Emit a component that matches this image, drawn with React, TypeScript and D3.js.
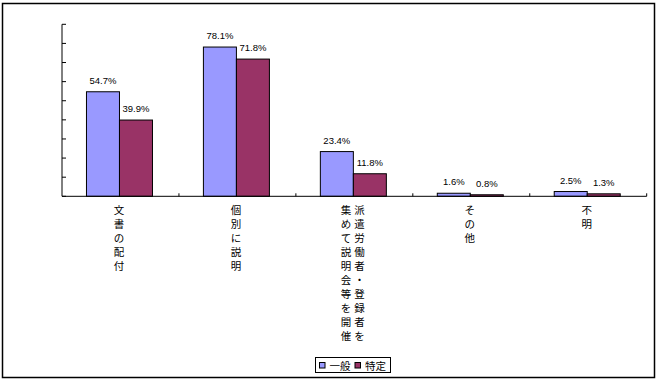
import React from "react";
import * as d3 from "d3";

const categories = ["文書の配付", "個別に説明", "派遣労働者・登録者を集めて説明会等を開催", "その他", "不明"];
// vertical label columns, read right-to-left
const labelColumns = [["文書の配付"], ["個別に説明"], ["派遣労働者・登録者を", "集めて説明会等を開催"], ["その他"], ["不明"]];
const seriesNames = ["一般", "特定"];
const ippan = [54.7, 78.1, 23.4, 1.6, 2.5];
const tokutei = [39.9, 71.8, 11.8, 0.8, 1.3];
const yTicks = [0, 10, 20, 30, 40, 50, 60, 70, 80, 90];
const colors = ["#9999FF", "#993366"];

const W = 658;
const H = 381;

export default function App() {
  const x = d3.scaleBand<string>().domain(categories).range([62, 646.7]).padding(0);
  const y = d3.scaleLinear().domain([0, 90]).range([196.3, 24.3]);
  const barW = 33;
  const series = [ippan, tokutei];
  const numFont = "'Liberation Sans', Arial, sans-serif";
  const cjkFont = "'Noto Sans CJK JP', sans-serif";
  const base = y(0);

  return (
    <svg width={W} height={H} style={{ position: "absolute", left: 0, top: 0, background: "#fff" }}>
      <rect x={2.5} y={3.5} width={652} height={374} fill="#fff" stroke="#000" strokeWidth={1.5} />
      {/* bars */}
      {categories.map((c, i) => {
        const cx = (x(c) as number) + x.bandwidth() / 2 - 1;
        return (
          <g key={c}>
            {series.map((s, j) => {
              const bx = cx - barW + j * barW;
              const top = y(s[i]);
              return (
                <g key={j}>
                  <rect x={bx} y={top} width={barW} height={base - top} fill={colors[j]} stroke="#000" strokeWidth={1} />
                  <text x={bx + barW / 2} y={top - 8} textAnchor="middle" fontFamily={numFont} fontSize={9.5} fill="#000">
                    {s[i].toFixed(1)}%
                  </text>
                </g>
              );
            })}
          </g>
        );
      })}
      {/* y axis */}
      <line x1={62} x2={62} y1={y(90)} y2={base} stroke="#000" strokeWidth={1} />
      {yTicks.map((t) => (
        <line key={t} x1={62} x2={66} y1={y(t)} y2={y(t)} stroke="#000" strokeWidth={1} />
      ))}
      {/* x axis */}
      <line x1={62} x2={646.7} y1={base} y2={base} stroke="#000" strokeWidth={1} />
      {categories.map((c, i) => {
        const bx = (x(c) as number) + x.bandwidth();
        return <line key={"t" + i} x1={bx} x2={bx} y1={base} y2={base - 3} stroke="#000" strokeWidth={1} />;
      })}
      {/* category labels, vertical */}
      {categories.map((c, i) => {
        const cx = (x(c) as number) + x.bandwidth() / 2 - 1.5;
        const cols = labelColumns[i];
        const n = cols.length;
        const colGap = 13.5;
        return (
          <g key={"l" + i}>
            {cols.map((col, k) => {
              const colX = cx + ((n - 1) / 2 - k) * colGap;
              return Array.from(col).map((ch, m) => (
                <text
                  key={k + "-" + m}
                  x={colX}
                  y={209 + m * 14}
                  textAnchor="middle"
                  dominantBaseline="central"
                  fontFamily={cjkFont}
                  fontSize={10.5}
                  fill="#000"
                >
                  {ch}
                </text>
              ));
            })}
          </g>
        );
      })}
      {/* legend */}
      <rect x={315.5} y={357.5} width={75} height={15} fill="#fff" stroke="#000" strokeWidth={1} />
      {seriesNames.map((s, j) => {
        const lx = 319.5 + j * 35.5;
        return (
          <g key={s}>
            <rect x={lx} y={362.5} width={5.5} height={5.5} fill={colors[j]} stroke="#000" strokeWidth={1} />
            <text x={lx + 10} y={365.3} dominantBaseline="central" fontFamily={cjkFont} fontSize={10.5} fill="#000">
              {s}
            </text>
          </g>
        );
      })}
    </svg>
  );
}
